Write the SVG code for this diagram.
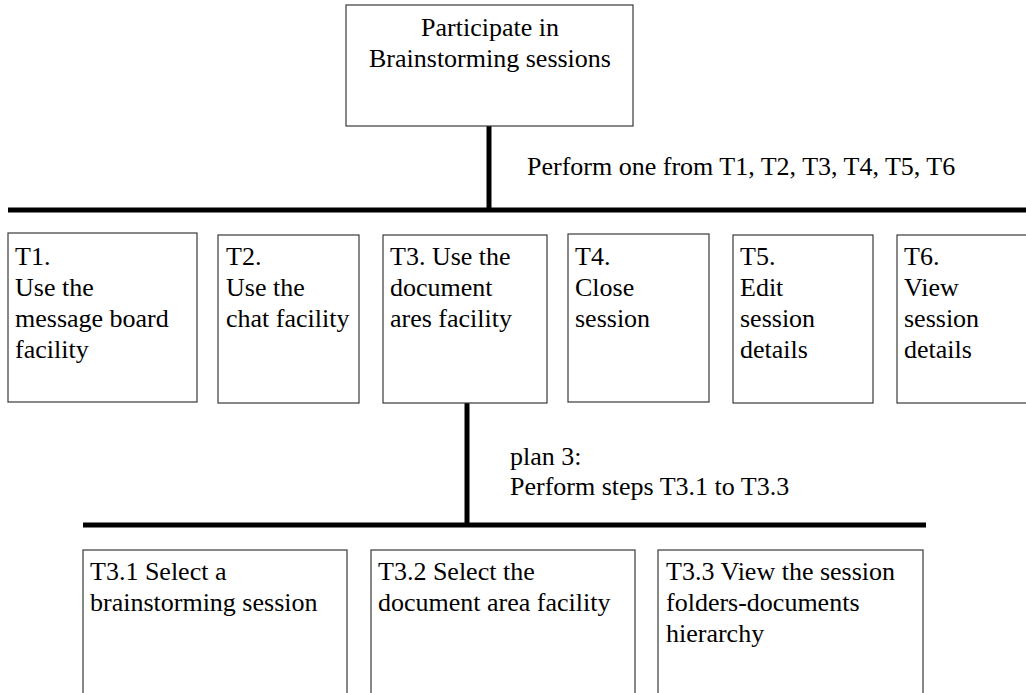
<svg xmlns="http://www.w3.org/2000/svg" width="1026" height="693" viewBox="0 0 1026 693">
  <style>
    .box { fill: #ffffff; stroke: #3a3a3a; stroke-width: 1.2; }
    .bar { stroke: #000000; stroke-width: 5; fill: none; }
    .lbl { font-family: 'Liberation Serif', Tinos, 'DejaVu Serif', serif; font-size: 26px; fill: #000000; }
    .mid { text-anchor: middle; }
  </style>
  <rect x="0" y="0" width="1026" height="693" fill="#ffffff"/>

  <!-- hierarchy connectors -->
  <g id="connectors">
    <line class="bar" x1="489" y1="126" x2="489" y2="210"/>
    <line class="bar" x1="8" y1="210" x2="1026" y2="210"/>
    <line class="bar" x1="467" y1="403" x2="467" y2="525"/>
    <line class="bar" x1="83" y1="525" x2="926" y2="525"/>
  </g>

  <!-- plan labels -->
  <g id="plan-labels" class="lbl" font-family="Liberation Serif, serif">
    <text x="527" y="175">Perform one from T1, T2, T3, T4, T5, T6</text>
    <text x="510" y="465">plan 3:</text>
    <text x="510" y="495">Perform steps T3.1 to T3.3</text>
  </g>

  <g id="root" class="lbl" font-family="Liberation Serif, serif">
    <rect class="box" x="346" y="5" width="287" height="121"/>
    <text class="mid" x="490" y="36">Participate in</text>
    <text class="mid" x="490" y="67">Brainstorming sessions</text>
  </g>

  <g id="t1" class="lbl" font-family="Liberation Serif, serif">
    <rect class="box" x="8" y="233" width="189" height="169"/>
    <text x="15" y="265">T1.</text>
    <text x="15" y="296">Use the</text>
    <text x="15" y="327">message board</text>
    <text x="15" y="358">facility</text>
  </g>

  <g id="t2" class="lbl" font-family="Liberation Serif, serif">
    <rect class="box" x="218" y="235" width="141" height="168"/>
    <text x="226" y="265">T2.</text>
    <text x="226" y="296">Use the</text>
    <text x="226" y="327">chat facility</text>
  </g>

  <g id="t3" class="lbl" font-family="Liberation Serif, serif">
    <rect class="box" x="383" y="235" width="164" height="168"/>
    <text x="390" y="265">T3. Use the</text>
    <text x="390" y="296">document</text>
    <text x="390" y="327">ares facility</text>
  </g>

  <g id="t4" class="lbl" font-family="Liberation Serif, serif">
    <rect class="box" x="568" y="234" width="141" height="168"/>
    <text x="575" y="265">T4.</text>
    <text x="575" y="296">Close</text>
    <text x="575" y="327">session</text>
  </g>

  <g id="t5" class="lbl" font-family="Liberation Serif, serif">
    <rect class="box" x="733" y="235" width="140" height="168"/>
    <text x="740" y="265">T5.</text>
    <text x="740" y="296">Edit</text>
    <text x="740" y="327">session</text>
    <text x="740" y="358">details</text>
  </g>

  <g id="t6" class="lbl" font-family="Liberation Serif, serif">
    <rect class="box" x="897" y="235" width="140" height="168"/>
    <text x="904" y="265">T6.</text>
    <text x="904" y="296">View</text>
    <text x="904" y="327">session</text>
    <text x="904" y="358">details</text>
  </g>

  <g id="t3-1" class="lbl" font-family="Liberation Serif, serif">
    <rect class="box" x="83" y="550" width="264" height="160"/>
    <text x="90" y="580">T3.1 Select a</text>
    <text x="90" y="611">brainstorming session</text>
  </g>

  <g id="t3-2" class="lbl" font-family="Liberation Serif, serif">
    <rect class="box" x="371" y="550" width="264" height="160"/>
    <text x="378" y="580">T3.2 Select the</text>
    <text x="378" y="611">document area facility</text>
  </g>

  <g id="t3-3" class="lbl" font-family="Liberation Serif, serif">
    <rect class="box" x="658" y="550" width="265" height="160"/>
    <text x="666" y="580">T3.3 View the session</text>
    <text x="666" y="611">folders-documents</text>
    <text x="666" y="642">hierarchy</text>
  </g>
</svg>
